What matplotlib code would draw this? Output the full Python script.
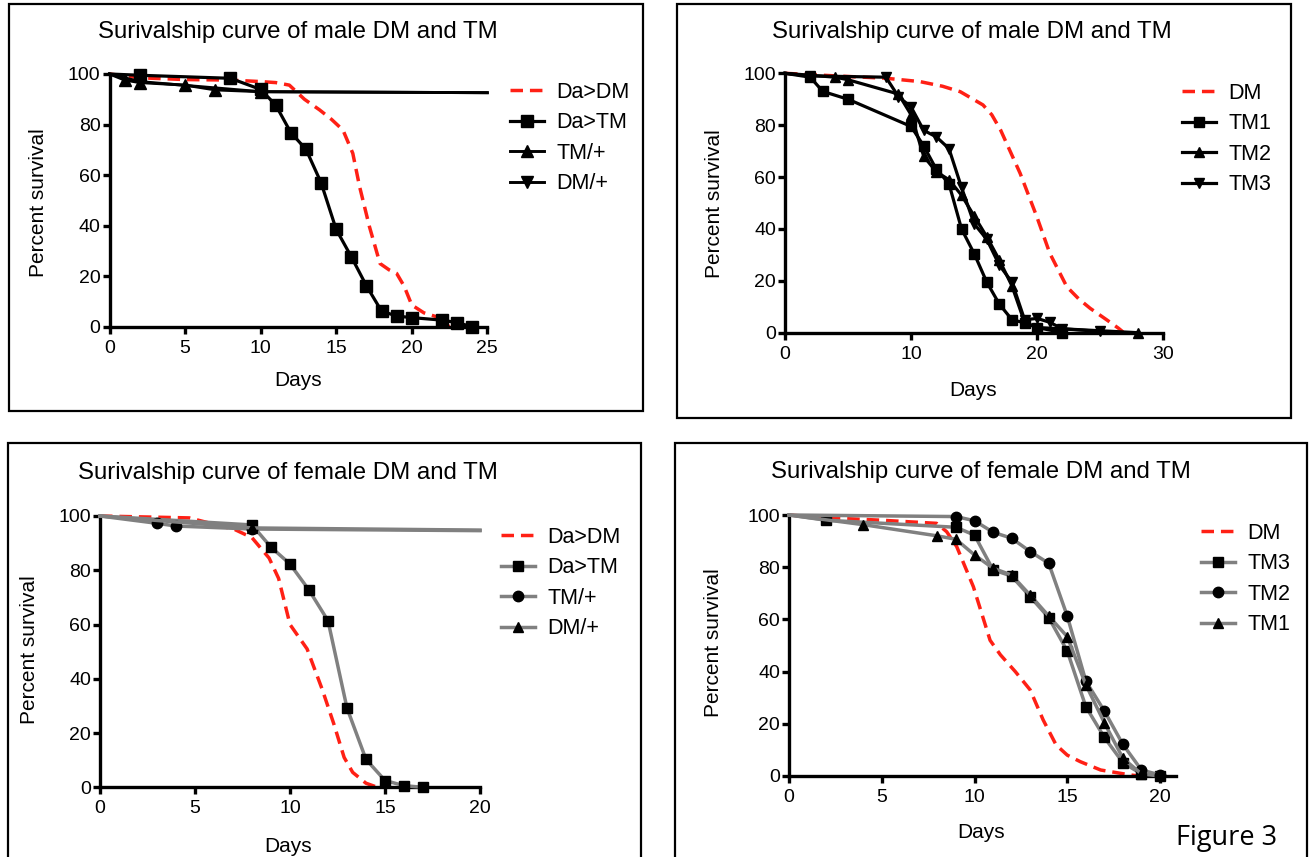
import matplotlib.pyplot as plt
from matplotlib.patches import Rectangle

W, H = 1316, 857

# ---- panel 1: male, Da>DM / Da>TM / controls
m1_dadm_x = [0, 2, 5, 8, 10, 11, 11.9, 12.9, 13.9, 14.7, 15.45, 16.1, 16.55, 17.2, 17.9, 18.5, 19.0, 19.5, 20.0, 20.8, 21.6, 22.1, 22.5]
m1_dadm_y = [100, 98.5, 97.8, 97.6, 97, 96.6, 95.6, 90, 85.8, 82, 77.8, 68.6, 55.4, 39.6, 25, 22.5, 21.1, 16, 8.6, 5.5, 4, 1.5, 0]
m1_datm_x = [0, 2, 8, 10, 11, 12, 13, 14, 15, 16, 17, 18, 19, 20, 22, 23, 24]
m1_datm_y = [100, 99.5, 98.3, 93.9, 87.7, 76.8, 70.2, 57, 38.5, 27.7, 16.2, 6.2, 4.2, 3.6, 2.6, 1.6, 0]
m1_tm_x = [0, 1, 2, 5, 7, 10, 25]
m1_tm_y = [100, 97.6, 96.6, 95.6, 93.7, 93, 92.6]
m1_dm_x = [0, 2, 10, 25]
m1_dm_y = [100, 97, 93, 92.6]

# ---- panel 2: male, DM vs TM lines
m2_dm_x = [0, 4, 8, 10.7, 12.5, 13.9, 15.7, 16.4, 17.1, 18.65, 19.97, 21.0, 22.35, 23.3, 24.2, 25.5, 26.45, 26.8]
m2_dm_y = [100, 99, 98.1, 96.8, 95, 92.9, 87.8, 84, 78.1, 61.4, 44.7, 30.6, 17.7, 13, 9.4, 5, 1.7, 0.3]
m2_tm1_x = [0, 2, 3, 5, 10, 11, 12, 13, 14, 15, 16, 17, 18, 19, 20, 22]
m2_tm1_y = [100, 98.5, 93, 90, 79.5, 72, 63, 57.5, 40, 30.5, 19.5, 11, 5, 3.8, 2, 0]
m2_tm2_x = [0, 4, 5, 9, 10, 11, 12, 13, 14, 15, 16, 17, 18, 19, 20, 28]
m2_tm2_y = [100, 98.5, 97.5, 92, 84, 68, 62, 59, 53, 45, 37, 28, 18, 4, 2, 0]
m2_tm3_x = [0, 2, 8, 9, 10, 11, 12, 13, 14, 15, 16, 17, 18, 19, 20, 21, 22, 25]
m2_tm3_y = [100, 99, 98.5, 91, 87, 78, 75.5, 71, 56, 42, 36, 26, 19.5, 5, 5.5, 4, 1.5, 0.5]

# ---- panel 3: female, Da>DM / Da>TM / controls
f1_dadm_x = [0, 4.7, 7.1, 8.0, 8.9, 9.4, 10.0, 10.9, 11.7, 12.3, 12.85, 13.3, 14.0, 14.6]
f1_dadm_y = [100, 99.3, 95, 92, 84.5, 77, 60, 51, 36, 23.5, 11, 5.5, 1.5, 0]
f1_datm_x = [0, 8, 9, 10, 11, 12, 13, 14, 15, 16, 17]
f1_datm_y = [100, 96.7, 88.5, 82.3, 72.7, 61.4, 29.2, 10.3, 2.5, 0.6, 0]
f1_tm_x = [0, 3, 4, 8, 20]
f1_tm_y = [100, 97.3, 96.3, 95.2, 94.6]
f1_dm_x = [0, 8, 20]
f1_dm_y = [100, 95.6, 94.8]

# ---- panel 4: female, DM vs TM lines
f2_dm_x = [0, 1.85, 5, 7.96, 8.5, 9.04, 9.94, 10.84, 11.4, 12.2, 13.0, 13.7, 14.4, 15.0, 15.7, 16.8, 18.4, 18.9]
f2_dm_y = [100, 99, 98, 96.8, 93.6, 87.9, 72.5, 52, 46.4, 40, 33, 21.5, 11.9, 8, 5.5, 2.3, 0.4, 0]
f2_tm3_x = [0, 2, 9, 10, 11, 12, 13, 14, 15, 16, 17, 18, 19, 20]
f2_tm3_y = [100, 98, 95.3, 92.3, 79, 76.6, 68.7, 60.7, 47.9, 26.6, 14.8, 5.1, 0.8, 0]
f2_tm2_x = [0, 9, 10, 11, 12, 13, 14, 15, 16, 17, 18, 19, 20]
f2_tm2_y = [100, 99.4, 97.8, 93.4, 91.1, 86, 81.5, 61.3, 36.4, 24.9, 12.1, 2.3, 0.4]
f2_tm1_x = [0, 4, 8, 9, 10, 11, 12, 13, 14, 15, 16, 17, 18, 19]
f2_tm1_y = [100, 96.3, 92, 90.7, 84.7, 79.6, 77, 69.3, 61.3, 53.4, 35, 20.4, 6.8, 0.8]

y_ticks = [0, 20, 40, 60, 80, 100]
title_male = "Surivalship curve of male DM and TM"
title_female = "Surivalship curve of female DM and TM"

plt.rcParams['font.family'] = ['Liberation Sans', 'DejaVu Sans']
fig = plt.figure(figsize=(W / 100, H / 100), dpi=100)

RED = '#ff2015'
GREY = '#808080'


def fx(px):
    return px / W


def fy(py):
    return 1 - py / H


def box(x0, y0, x1, y1):
    fig.add_artist(Rectangle((fx(x0), fy(y1)), fx(x1) - fx(x0), fy(y0) - fy(y1),
                             transform=fig.transFigure, fill=False, lw=1.6, ec='black'))


def make_axes(x0, y0, x1, y1, xmax, xticks):
    # x0,y0 = pixel of data origin, x1 = pixel of xmax, y1 = pixel of 100
    ax = fig.add_axes([fx(x0), fy(y0), (x1 - x0) / W, (y0 - y1) / H])
    ax.set_xlim(0, xmax)
    ax.set_ylim(0, 100)
    ax.set_xticks(xticks)
    ax.set_yticks(y_ticks)
    for s in ['top', 'right']:
        ax.spines[s].set_visible(False)
    for s in ['left', 'bottom']:
        ax.spines[s].set_linewidth(2.4)
    ax.tick_params(direction='out', length=5, width=2.4, labelsize=14)
    ax.tick_params(axis='y', pad=1.5)
    ax.tick_params(axis='x', pad=4.5)
    ax.patch.set_alpha(0)
    return ax


def labels(title, tx, ty, ylx, yly, dx, dy):
    fig.text(fx(tx), fy(ty), title, ha='center', va='center', fontsize=17.3)
    fig.text(fx(ylx), fy(yly), 'Percent survival', ha='center', va='center',
             rotation=90, fontsize=15)
    fig.text(fx(dx), fy(dy), 'Days', ha='center', va='center', fontsize=15)


def red_line(ax, x, y, lab):
    ax.plot(x, y, color=RED, lw=2.5, dashes=(3.6, 2.0), label=lab, clip_on=False, zorder=2)


def leg(ax, lx, ly):
    ax.legend(loc='upper left', bbox_to_anchor=(fx(lx), fy(ly)), bbox_transform=fig.transFigure,
              frameon=False, fontsize=15.5, handlelength=1.6, handletextpad=0.55,
              labelspacing=0.44, borderpad=0, borderaxespad=0)


# panel 1
box(9, 4, 643, 411)
ax1 = make_axes(109.5, 326.7, 487.3, 74, 25, [0, 5, 10, 15, 20, 25])
labels(title_male, 298, 32, 39, 203, 298, 381)
red_line(ax1, m1_dadm_x, m1_dadm_y, 'Da>DM')
ax1.plot(m1_datm_x, m1_datm_y, color='black', lw=2.3, marker='s', ms=8, markevery=list(range(1, len(m1_datm_x))),
         label='Da>TM', clip_on=False, zorder=3)
ax1.plot(m1_tm_x, m1_tm_y, color='black', lw=2.1, marker='^', ms=8, markevery=[1, 2, 3, 4, 5],
         label='TM/+', clip_on=False, zorder=3)
ax1.plot(m1_dm_x, m1_dm_y, color='black', lw=2.1, marker='v', ms=8, markevery=[1, 2],
         label='DM/+', clip_on=False, zorder=3)
leg(ax1, 510, 82)

# panel 2
box(677, 4, 1291, 418)
ax2 = make_axes(785, 332.7, 1163.3, 73.3, 30, [0, 10, 20, 30])
labels(title_male, 972, 32, 715, 204, 973, 390)
red_line(ax2, m2_dm_x, m2_dm_y, 'DM')
ax2.plot(m2_tm1_x, m2_tm1_y, color='black', lw=2.3, marker='s', ms=7.5, markevery=list(range(1, len(m2_tm1_x))),
         label='TM1', clip_on=False, zorder=3)
ax2.plot(m2_tm2_x, m2_tm2_y, color='black', lw=2.3, marker='^', ms=7.5, markevery=list(range(1, len(m2_tm2_x))),
         label='TM2', clip_on=False, zorder=3)
ax2.plot(m2_tm3_x, m2_tm3_y, color='black', lw=2.3, marker='v', ms=7.5, markevery=list(range(1, len(m2_tm3_x))),
         label='TM3', clip_on=False, zorder=3)
leg(ax2, 1182, 83)

# panel 3
box(8, 443, 641, 870)
ax3 = make_axes(100, 787.3, 480, 516, 20, [0, 5, 10, 15, 20])
labels(title_female, 288, 473, 29.5, 650, 288, 846)
red_line(ax3, f1_dadm_x, f1_dadm_y, 'Da>DM')
ax3.plot(f1_datm_x, f1_datm_y, color=GREY, lw=2.5, marker='s', ms=6.5, mfc='black', mec='black',
         markevery=list(range(1, len(f1_datm_x))), label='Da>TM', clip_on=False, zorder=3)
ax3.plot(f1_tm_x, f1_tm_y, color=GREY, lw=2.5, marker='o', ms=7.5, mfc='black', mec='black',
         markevery=[1, 2, 3], label='TM/+', clip_on=False, zorder=3)
ax3.plot(f1_dm_x, f1_dm_y, color=GREY, lw=2.5, marker='^', ms=7, mfc='black', mec='black',
         markevery=[1], label='DM/+', clip_on=False, zorder=3)
leg(ax3, 501, 527)

# panel 4
box(675, 443, 1307, 870)
ax4 = make_axes(789, 776, 1176, 515, 20 * (1176 - 789) / (1160 - 789), [0, 5, 10, 15, 20])
labels(title_female, 981, 472, 714, 643, 981, 832)
red_line(ax4, f2_dm_x, f2_dm_y, 'DM')
ax4.plot(f2_tm3_x, f2_tm3_y, color=GREY, lw=2.5, marker='s', ms=6.5, mfc='black', mec='black',
         markevery=list(range(1, len(f2_tm3_x))), label='TM3', clip_on=False, zorder=3)
ax4.plot(f2_tm2_x, f2_tm2_y, color=GREY, lw=2.5, marker='o', ms=7.5, mfc='black', mec='black',
         markevery=list(range(1, len(f2_tm2_x))), label='TM2', clip_on=False, zorder=3)
ax4.plot(f2_tm1_x, f2_tm1_y, color=GREY, lw=2.5, marker='^', ms=7, mfc='black', mec='black',
         markevery=list(range(1, len(f2_tm1_x))), label='TM1', clip_on=False, zorder=3)
leg(ax4, 1201, 523)

fig.text(fx(1227), fy(838), 'Figure 3', ha='center', va='center', fontsize=19.5,
         family=['Open Sans', 'DejaVu Sans'])

fig.savefig('out.png', dpi=100)
